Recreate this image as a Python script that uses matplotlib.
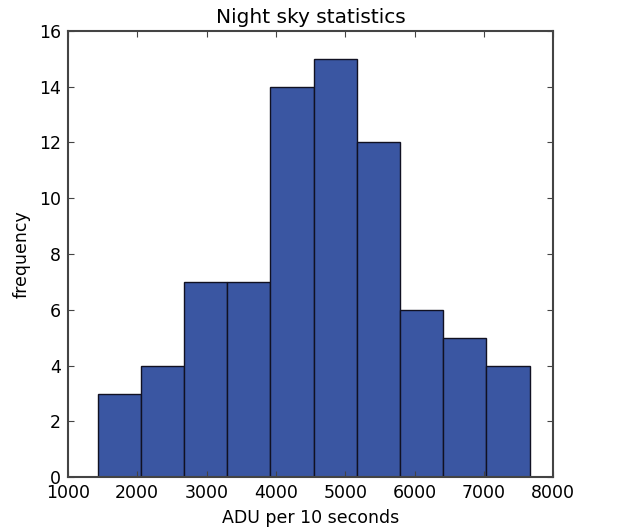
import matplotlib
matplotlib.use("Agg")
import matplotlib.pyplot as plt
import numpy as np

bin_edges = [1430, 2053, 2676, 3299, 3922, 4545, 5168, 5791, 6414, 7037, 7660]
counts = [3, 4, 7, 7, 14, 15, 12, 6, 5, 4]
x_ticks = [1000, 2000, 3000, 4000, 5000, 6000, 7000, 8000]
y_ticks = [0, 2, 4, 6, 8, 10, 12, 14, 16]

fig = plt.figure(figsize=(6.23, 5.32), dpi=100)
ax = fig.add_axes([0.109, 0.103, 0.779, 0.839])
centers = [(bin_edges[i] + bin_edges[i + 1]) / 2 for i in range(len(counts))]
ax.hist(centers, bins=bin_edges, weights=counts, color="#3a56a2",
        edgecolor="#111122", linewidth=1.0)
ax.set_xlim(1000, 8000)
ax.set_ylim(0, 16)
ax.set_xticks(x_ticks)
ax.set_yticks(y_ticks)
ax.tick_params(direction="in", top=True, right=True, labelsize=12.5, length=4,
               pad=5, color="#444444")
for s in ax.spines.values():
    s.set_color("#444444")
    s.set_linewidth(1.5)
ax.set_title("Night sky statistics", fontsize=14.5, pad=6)
ax.set_xlabel("ADU per 10 seconds", fontsize=12.5, labelpad=5)
ax.set_ylabel("frequency", fontsize=12.5, labelpad=6)
fig.savefig("out.png", dpi=100)
